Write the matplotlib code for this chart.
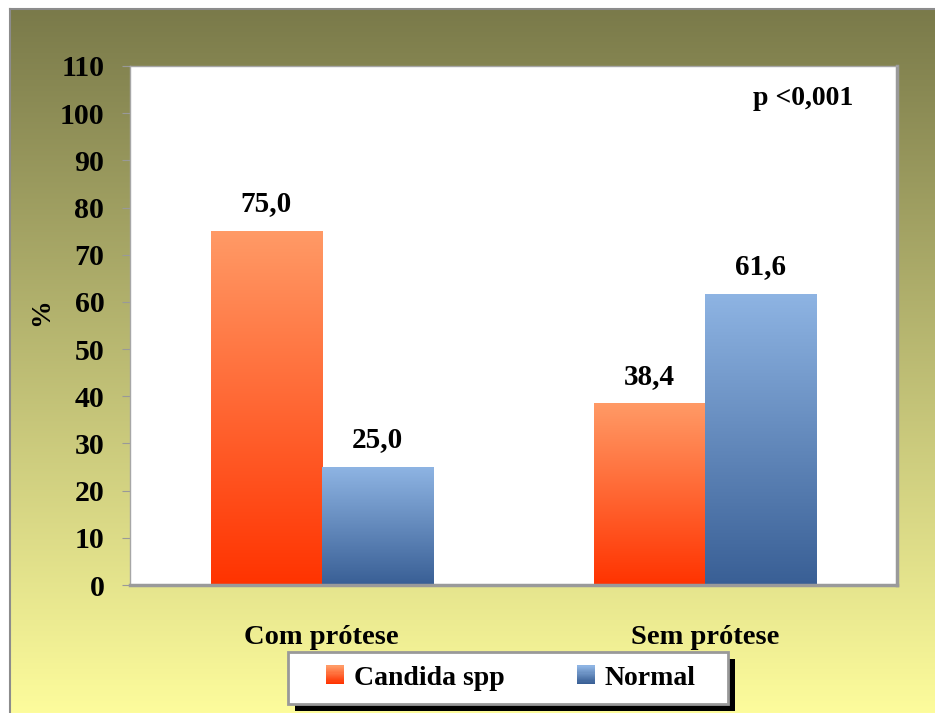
import numpy as np
import matplotlib
matplotlib.use("Agg")
import matplotlib.pyplot as plt
from matplotlib.patches import Rectangle, Patch
from matplotlib.legend_handler import HandlerBase
from matplotlib.colors import to_rgb

categories = ["Com prótese", "Sem prótese"]
series_names = ["Candida spp", "Normal"]
candida = [75.0, 38.4]
normal = [25.0, 61.6]
candida_labels = ["75,0", "38,4"]
normal_labels = ["25,0", "61,6"]
yticks = list(range(0, 111, 10))
p_text = "p <0,001"

W, H = 935, 713
plt.rcParams["font.family"] = ["Liberation Serif", "DejaVu Serif"]
plt.rcParams["font.weight"] = "bold"

ORANGE = ("#ff9a66", "#ff3300")
BLUE = ("#8eb4e3", "#395f95")


def grad(top, bottom, n=256):
    t = np.linspace(0, 1, n)[:, None]
    c = np.array(to_rgb(top)) * (1 - t) + np.array(to_rgb(bottom)) * t
    return c[:, None, :]


class GradientBox(HandlerBase):
    def __init__(self, top, bottom):
        super().__init__()
        self.top, self.bottom = top, bottom

    def create_artists(self, legend, orig_handle, xdescent, ydescent,
                       width, height, fontsize, trans):
        n = 16
        cols = grad(self.top, self.bottom, n)[:, 0, :]
        arts = []
        for i in range(n):
            arts.append(Rectangle((-xdescent, -ydescent + height * (n - 1 - i) / n),
                                  width, height / n * 1.05, facecolor=cols[i],
                                  edgecolor="none", transform=trans))
        return arts


fig = plt.figure(figsize=(W / 100, H / 100), dpi=100)
fig.patch.set_facecolor("white")

# olive -> pale yellow panel behind everything
bg = fig.add_axes([10 / W, 0, 1 - 10 / W, 1 - 9 / H], zorder=-2)
bg.imshow(grad("#7a7a4a", "#fdfc9c"), aspect="auto", extent=[0, 1, 0, 1])
bg.set_xlim(0, 1)
bg.set_ylim(0, 1)
bg.set_xticks([])
bg.set_yticks([])
for s in ["right", "bottom"]:
    bg.spines[s].set_visible(False)
for s in ["top", "left"]:
    bg.spines[s].set_color("#8c8c8c")
    bg.spines[s].set_linewidth(1.5)

ax = fig.add_axes([130 / W, 1 - 585 / H, (897 - 130) / W, (585 - 66) / H])
ax.set_facecolor("white")

x = np.arange(len(categories))
w = 0.29
b1 = ax.bar(x - w / 2, candida, w, color=ORANGE[0], zorder=1)
b2 = ax.bar(x + w / 2, normal, w, color=BLUE[0], zorder=1)

for bars, (top, bot), labels in [(b1, ORANGE, candida_labels), (b2, BLUE, normal_labels)]:
    for b, lbl in zip(bars, labels):
        x0, bw, bh = b.get_x(), b.get_width(), b.get_height()
        ax.imshow(grad(top, bot), extent=[x0, x0 + bw, 0, bh], aspect="auto", zorder=2)
        ax.annotate(lbl, (x0 + bw / 2, bh), xytext=(0, 14.5), textcoords="offset points",
                    ha="center", va="baseline", fontsize=21, fontweight="bold")

ax.set_xlim(-0.5, 1.5)
ax.set_ylim(0, 110)
ax.set_yticks(yticks)
ax.set_xticks([])
ax.tick_params(axis="y", length=6, color="#999999", pad=12.5, labelsize=21.5)

for s in ["left", "top"]:
    ax.spines[s].set_color("#a6a6a6")
    ax.spines[s].set_linewidth(1)
for s in ["right", "bottom"]:
    ax.spines[s].set_color("#9a9a9a")
    ax.spines[s].set_linewidth(2.5)

for xi, cat in zip(x, categories):
    ax.text(xi, -(644 - 585) / 519, cat, transform=ax.get_xaxis_transform(),
            ha="center", va="baseline", fontsize=20.5, fontweight="bold")

ax.text((753 - 130) / 767, (585 - 105) / 519, p_text, transform=ax.transAxes,
        ha="left", va="baseline", fontsize=20, fontweight="bold")

fig.text(42 / W, 1 - 312 / H, "%", rotation=90, ha="center", va="center",
         fontsize=20, fontweight="bold")

# legend box with black drop shadow
fig.add_artist(Rectangle((295 / W, 1 - 711 / H), 440 / W, 52 / H, facecolor="black",
                         edgecolor="none", transform=fig.transFigure, zorder=3))
fig.add_artist(Rectangle((288 / W, 1 - 704 / H), 440 / W, 52 / H, facecolor="white",
                         edgecolor="#999999", linewidth=2, transform=fig.transFigure, zorder=3.5))

h1 = Patch(label=series_names[0])
h2 = Patch(label=series_names[1])
fig.legend([h1, h2], series_names, loc="center", bbox_to_anchor=(511 / W, 1 - 678 / H),
           ncol=2, frameon=False, fontsize=20, handlelength=0.65, handleheight=0.65,
           handletextpad=0.35, columnspacing=2.6,
           handler_map={h1: GradientBox(*ORANGE), h2: GradientBox(*BLUE)})

fig.savefig("out.png", dpi=100)
